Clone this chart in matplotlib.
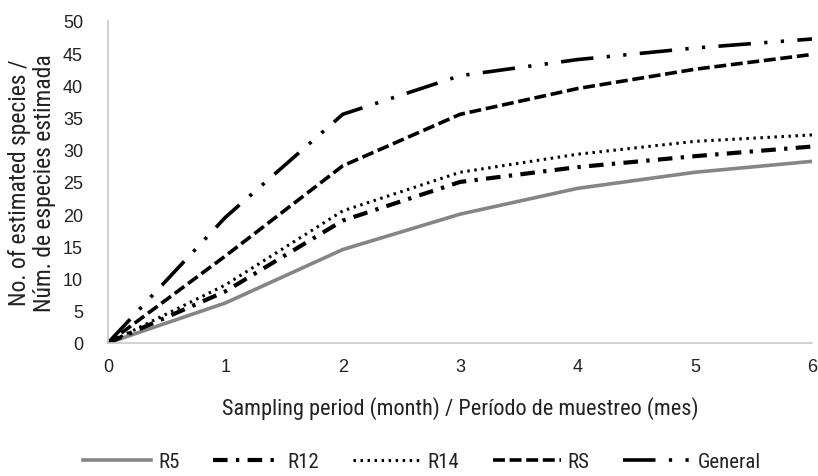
import matplotlib.pyplot as plt

months = [0, 1, 2, 3, 4, 5, 6]
r5 = [0, 6.2, 14.5, 20.0, 24.0, 26.5, 28.2]
r12 = [0, 8.0, 19.0, 25.0, 27.3, 29.0, 30.5]
r14 = [0, 9.0, 20.5, 26.5, 29.3, 31.3, 32.3]
rs = [0, 13.5, 27.5, 35.5, 39.5, 42.5, 44.8]
general = [0, 19.5, 35.5, 41.5, 44.0, 45.8, 47.2]

narrow = ['Roboto Condensed', 'DejaVu Sans']
plt.rcParams['font.family'] = ['Liberation Sans', 'DejaVu Sans']

fig = plt.figure(figsize=(8.18, 4.77), dpi=100)
ax = fig.add_axes([0.132, 0.279, 0.861, 0.675])

ax.plot(months, r5, color='#858585', lw=2.6, label='R5')
ax.plot(months, r12, color='black', lw=3, dashes=(3.5, 2, 0.8, 2), label='R12')
ax.plot(months, r14, color='black', lw=2.2, dashes=(0.8, 1.5), label='R14')
ax.plot(months, rs, color='black', lw=2.6, dashes=(3.3, 1.3), label='RS')
ax.plot(months, general, color='black', lw=2.6, dashes=(9, 3.7, 0.9, 3.7, 0.9, 3.7), label='General')

ax.set_xlim(0, 6)
ax.set_ylim(0, 50)
ax.set_xticks(range(0, 7))
ax.set_yticks(range(0, 51, 5))
ax.tick_params(length=0, labelsize=13, labelcolor='#222222')
ax.tick_params(axis='x', pad=11)
ax.tick_params(axis='y', pad=18)
for s in ['top', 'right']:
    ax.spines[s].set_visible(False)
for s in ['left', 'bottom']:
    ax.spines[s].set_color('#c8c8c8')
    ax.spines[s].set_linewidth(1.2)

ax.set_xlabel('Sampling period (month) / Período de muestreo (mes)', fontsize=16,
              family=narrow, labelpad=15, color='#222222')
ax.set_ylabel('No. of estimated species /\nNúm. de especies estimada', fontsize=17,
              family=narrow, labelpad=5, linespacing=1.1, color='#222222')

leg = fig.legend(loc='center', bbox_to_anchor=(0.516, 0.03), ncol=5, frameon=False,
                 prop={'family': narrow, 'size': 15}, handlelength=3.27, columnspacing=1.6,
                 handletextpad=0.33, labelcolor='#222222')

fig.savefig('out.png', dpi=100)
